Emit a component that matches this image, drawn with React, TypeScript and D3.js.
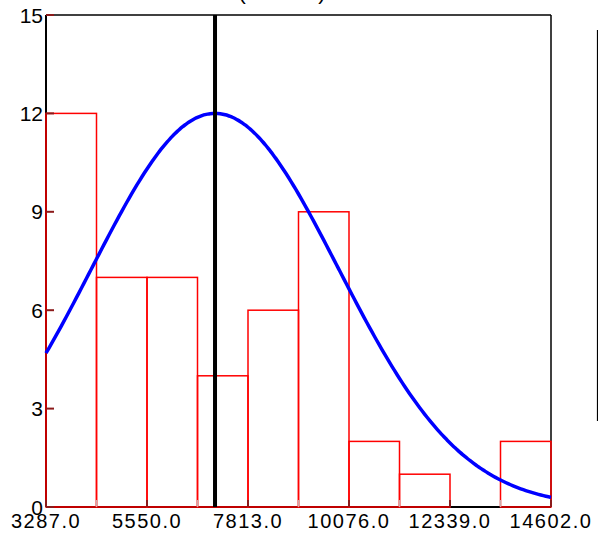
import React from "react";
import * as d3 from "d3";

const binEdges = [3287, 4418.5, 5550, 6681.5, 7813, 8944.5, 10076, 11207.5, 12339, 13470.5, 14602];
const counts = [12, 7, 7, 4, 6, 9, 2, 1, 0, 2];
const xTicks = [3287, 5550, 7813, 10076, 12339, 14602];
const minorTicks = [4418.5, 6681.5, 8944.5, 11207.5, 13470.5];
const yTicks = [0, 3, 6, 9, 12, 15];
const curveMean = 7074;
const curveSd = 2763;
const curvePeak = 12;
const titleText = "(Amount)";

export default function App() {
  const W = 598, H = 533;
  const left = 46, right = 551, top = 15, bottom = 507;
  const x = d3.scaleLinear().domain([3287, 14602]).range([left, right]);
  const y = d3.scaleLinear().domain([0, 15]).range([bottom, top]);

  const curvePts = d3.range(0, 201).map((i) => {
    const v = 3287 + (i / 200) * (14602 - 3287);
    const z = (v - curveMean) / curveSd;
    return [v, curvePeak * Math.exp(-0.5 * z * z)] as [number, number];
  });
  const line = d3.line<[number, number]>().x((d) => x(d[0])).y((d) => y(d[1])).curve(d3.curveMonotoneX);

  const font = "'Liberation Sans', Arial, sans-serif";

  return (
    <svg width={W} height={H} style={{ position: "absolute", left: 0, top: 0, background: "#fff" }}>
      <rect x={0} y={0} width={W} height={H} fill="#fff" />
      <text x={282} y={-0.5} fontSize={21} fontFamily={font} textAnchor="middle" fill="#000">{titleText}</text>
      {/* frame */}
      <line x1={left} x2={right} y1={top} y2={top} stroke="#000" strokeWidth={1.5} />
      <line x1={right} x2={right} y1={top} y2={bottom} stroke="#000" strokeWidth={1.5} />
      <line x1={left} x2={left} y1={top} y2={bottom} stroke="#000" strokeWidth={2} />
      <line x1={left} x2={right} y1={bottom} y2={bottom} stroke="#000" strokeWidth={2} />
      {/* legend edge */}
      <line x1={597.5} x2={597.5} y1={30} y2={421} stroke="#000" strokeWidth={1.2} />
      {/* bars */}
      {counts.map((c, i) =>
        c > 0 ? (
          <rect key={i} x={x(binEdges[i])} y={y(c)} width={x(binEdges[i + 1]) - x(binEdges[i])} height={y(0) - y(c)}
            fill="none" stroke="#ff0000" strokeWidth={1.5} />
        ) : null
      )}
      {/* y ticks */}
      {yTicks.map((t) => (
        <g key={t}>
          <line x1={left} x2={left + 8} y1={y(t)} y2={y(t)} stroke="#8b1a1a" strokeWidth={2} />
          <text x={43} y={y(t) + 7.5} fontSize={21} fontFamily={font} textAnchor="end" fill="#000">{t}</text>
        </g>
      ))}
      {/* x ticks */}
      {minorTicks.map((t) => (
        <line key={t} x1={x(t)} x2={x(t)} y1={bottom} y2={bottom - 7} stroke="#d0a8a8" strokeWidth={1.5} />
      ))}
      {xTicks.map((t) => (
        <g key={t}>
          <line x1={x(t)} x2={x(t)} y1={bottom} y2={bottom - 7} stroke="#8b1a1a" strokeWidth={2} />
          <text x={x(t)} y={528} fontSize={20} fontFamily={font} textAnchor="middle" letterSpacing={1.5} fill="#000">{t.toFixed(1)}</text>
        </g>
      ))}
      {/* curve */}
      <path d={line(curvePts) || ""} fill="none" stroke="#0000ff" strokeWidth={3.5} />
      {/* mean line */}
      <line x1={x(curveMean)} x2={x(curveMean)} y1={top} y2={bottom} stroke="#000" strokeWidth={4} />
    </svg>
  );
}
